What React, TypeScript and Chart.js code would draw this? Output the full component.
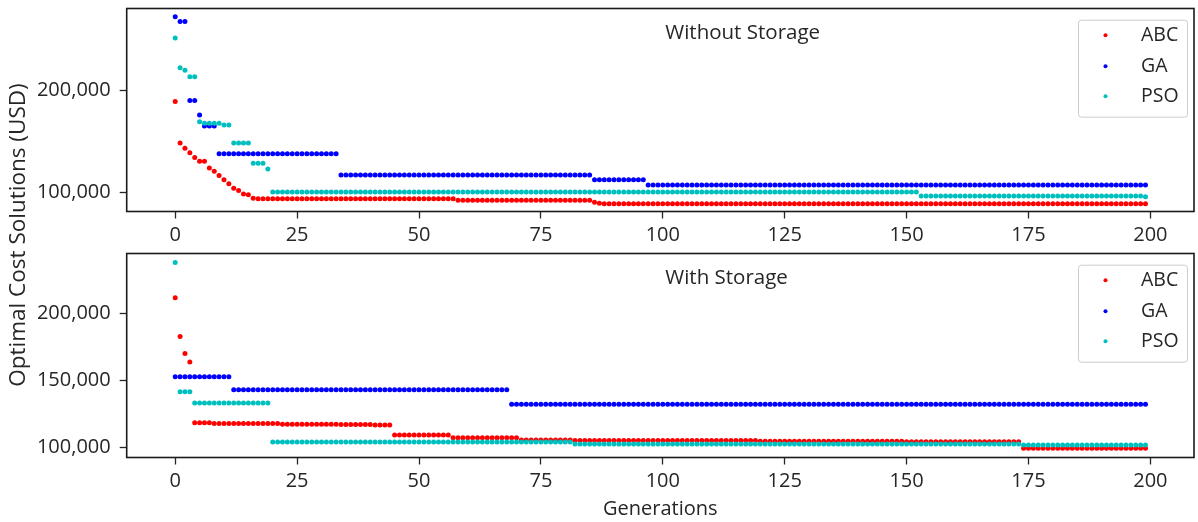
import { useEffect, useRef } from "react";
import { Chart, registerables } from "chart.js";

Chart.register(...registerables);

const GENERATIONS = 200;
const xTickValues = [0, 25, 50, 75, 100, 125, 150, 175, 200];
const topYTickValues = [100000, 200000];
const bottomYTickValues = [100000, 150000, 200000];
const seriesNames = ["ABC", "GA", "PSO"];
const seriesColors = ["#ff0000", "#0000ff", "#00bfbf"];

// Best cost per generation, stored as steps: [first generation, cost in USD]
const abcWithoutStorage: [number, number][] = [
  [0, 189500], [1, 148700], [2, 143700], [3, 139100], [4, 134500], [5, 130900],
  [7, 124300], [8, 121000], [9, 116800], [10, 112800], [11, 108900], [12, 104300],
  [13, 102300], [14, 98700], [15, 98000], [16, 94500], [17, 94100], [58, 92700],
  [86, 90700], [87, 89700], [88, 89100],
];
const gaWithoutStorage: [number, number][] = [
  [0, 272400], [1, 267800], [3, 190500], [5, 176300], [6, 165500], [9, 138200],
  [34, 117500], [86, 112800], [97, 107700],
];
const psoWithoutStorage: [number, number][] = [
  [0, 251700], [1, 222400], [2, 220100], [3, 213800], [5, 169700], [6, 168100],
  [10, 166400], [12, 148700], [16, 128900], [19, 123300], [20, 100700], [153, 96900],
  [199, 96000],
];

const abcWithStorage: [number, number][] = [
  [0, 211500], [1, 182600], [2, 169900], [3, 163700], [4, 118400], [8, 117700],
  [22, 117300], [34, 117000], [41, 116700], [45, 109200], [57, 107200], [71, 105500],
  [82, 105000], [120, 104500], [150, 104100], [174, 99300],
];
const gaWithStorage: [number, number][] = [[0, 152700], [12, 143000], [69, 132100]];
const psoWithStorage: [number, number][] = [
  [0, 237800], [1, 141500], [4, 133100], [20, 104000], [82, 102500], [174, 101800],
];

const FONT = "'Open Sans', 'Noto Sans', sans-serif";
const TEXT_COLOR = "#262626";

function expandSteps(steps: [number, number][]) {
  const pts: { x: number; y: number }[] = [];
  let k = 0;
  for (let g = 0; g < GENERATIONS; g++) {
    while (k + 1 < steps.length && steps[k + 1][0] <= g) k++;
    pts.push({ x: g, y: steps[k][1] });
  }
  return pts;
}

interface PanelCfg {
  title: string;
  series: [number, number][][];
  yMin: number;
  yMax: number;
  yTicks: number[];
  areaTop: number;
  xHeight: number;
  xTitle: boolean;
  yLabel: boolean;
}

const framePlugin = (cfg: PanelCfg) => ({
  id: "panelDecor",
  afterDraw(chart: any) {
    const { ctx, chartArea } = chart;
    const { left, top, right, bottom } = chartArea;
    ctx.save();
    // axes frame
    ctx.strokeStyle = "#1a1a1a";
    ctx.lineWidth = 1.6;
    ctx.strokeRect(left, top, right - left, bottom - top);

    // panel title
    ctx.fillStyle = TEXT_COLOR;
    ctx.font = `20.5px ${FONT}`;
    ctx.textAlign = "left";
    ctx.textBaseline = "middle";
    const xs = chart.scales.x;
    ctx.fillText(cfg.title, xs.getPixelForValue(100.5), top + 25);

    // legend
    const bx = right - 116;
    const by = top + 11.2;
    const bw = 109;
    const bh = 97;
    ctx.fillStyle = "rgba(255,255,255,0.85)";
    ctx.strokeStyle = "#cccccc";
    ctx.lineWidth = 1;
    ctx.beginPath();
    (ctx as any).roundRect(bx + 0.5, by + 0.5, bw, bh, 3);
    ctx.fill();
    ctx.stroke();
    const rows = [15.6, 46.6, 76.6];
    seriesNames.forEach((name, i) => {
      ctx.fillStyle = seriesColors[i];
      ctx.beginPath();
      ctx.arc(bx + 27.5, by + rows[i], 2, 0, Math.PI * 2);
      ctx.fill();
      ctx.fillStyle = TEXT_COLOR;
      ctx.font = `19.5px ${FONT}`;
      ctx.textAlign = "left";
      ctx.textBaseline = "middle";
      ctx.fillText(name, bx + 63, by + rows[i]);
    });

    if (cfg.yLabel) {
      ctx.translate(19, 235);
      ctx.rotate(-Math.PI / 2);
      ctx.fillStyle = TEXT_COLOR;
      ctx.font = `22.5px ${FONT}`;
      ctx.textAlign = "center";
      ctx.textBaseline = "middle";
      ctx.fillText("Optimal Cost Solutions (USD)", 0, 0);
    }
    ctx.restore();
  },
});

function buildChart(canvas: HTMLCanvasElement, cfg: PanelCfg) {
  return new Chart(canvas, {
    type: "scatter",
    data: {
      datasets: cfg.series.map((steps, i) => ({
        label: seriesNames[i],
        data: expandSteps(steps),
        backgroundColor: seriesColors[i],
        borderColor: seriesColors[i],
        pointRadius: 2.5,
        pointBorderWidth: 0,
        showLine: false,
        order: 2 - i,
      })),
    },
    options: {
      responsive: false,
      animation: false,
      events: [],
      layout: { padding: { top: cfg.areaTop, right: 1, left: 0, bottom: 0 } },
      plugins: {
        legend: { display: false },
        tooltip: { enabled: false },
        title: { display: false },
      },
      scales: {
        x: {
          type: "linear",
          min: -9.95,
          max: 208.95,
          afterBuildTicks: (s: any) => {
            s.ticks = xTickValues.map((v) => ({ value: v }));
          },
          afterFit: (s: any) => {
            s.height = cfg.xHeight;
            s.paddingLeft = 0;
            s.paddingRight = 0;
          },
          grid: {
            drawOnChartArea: false,
            drawTicks: true,
            tickLength: 7,
            tickColor: "#262626",
            tickWidth: 1.3,
          },
          border: { display: false },
          ticks: {
            color: TEXT_COLOR,
            font: { family: FONT, size: 20 },
            padding: 5,
            maxRotation: 0,
            autoSkip: false,
            callback: (v: any) => String(v),
          },
          title: {
            display: cfg.xTitle,
            text: "Generations",
            color: TEXT_COLOR,
            font: { family: FONT, size: 20 },
            padding: { top: 0, bottom: 1 },
          },
        },
        y: {
          type: "linear",
          min: cfg.yMin,
          max: cfg.yMax,
          afterBuildTicks: (s: any) => {
            s.ticks = cfg.yTicks.map((v) => ({ value: v }));
          },
          afterFit: (s: any) => {
            s.width = 126.7;
            s.paddingTop = 0;
            s.paddingBottom = 0;
          },
          grid: {
            drawOnChartArea: false,
            drawTicks: true,
            tickLength: 7,
            tickColor: "#262626",
            tickWidth: 1.3,
          },
          border: { display: false },
          ticks: {
            color: TEXT_COLOR,
            font: { family: FONT, size: 20 },
            padding: 9,
            callback: (v: any) => Number(v).toLocaleString("en-US"),
          },
        },
      },
    },
    plugins: [framePlugin(cfg)],
  } as any);
}

export default function App() {
  const topRef = useRef<HTMLCanvasElement>(null);
  const bottomRef = useRef<HTMLCanvasElement>(null);

  useEffect(() => {
    const top = buildChart(topRef.current!, {
      title: "Without Storage",
      series: [abcWithoutStorage, gaWithoutStorage, psoWithoutStorage],
      yMin: 81600,
      yMax: 280600,
      yTicks: topYTickValues,
      areaTop: 8.5,
      xHeight: 522 - 211.5,
      xTitle: false,
      yLabel: false,
    });
    const bottom = buildChart(bottomRef.current!, {
      title: "With Storage",
      series: [abcWithStorage, gaWithStorage, psoWithStorage],
      yMin: 92400,
      yMax: 244600,
      yTicks: bottomYTickValues,
      areaTop: 253.5,
      xHeight: 522 - 457.5,
      xTitle: true,
      yLabel: true,
    });
    return () => {
      top.destroy();
      bottom.destroy();
    };
  }, []);

  const canvasStyle: React.CSSProperties = {
    position: "absolute",
    left: 0,
    top: 0,
    width: 1198,
    height: 522,
  };

  return (
    <div style={{ position: "absolute", left: 0, top: 0, width: 1198, height: 522, background: "#ffffff" }}>
      <canvas ref={topRef} width={1198} height={522} style={canvasStyle} />
      <canvas ref={bottomRef} width={1198} height={522} style={canvasStyle} />
    </div>
  );
}
